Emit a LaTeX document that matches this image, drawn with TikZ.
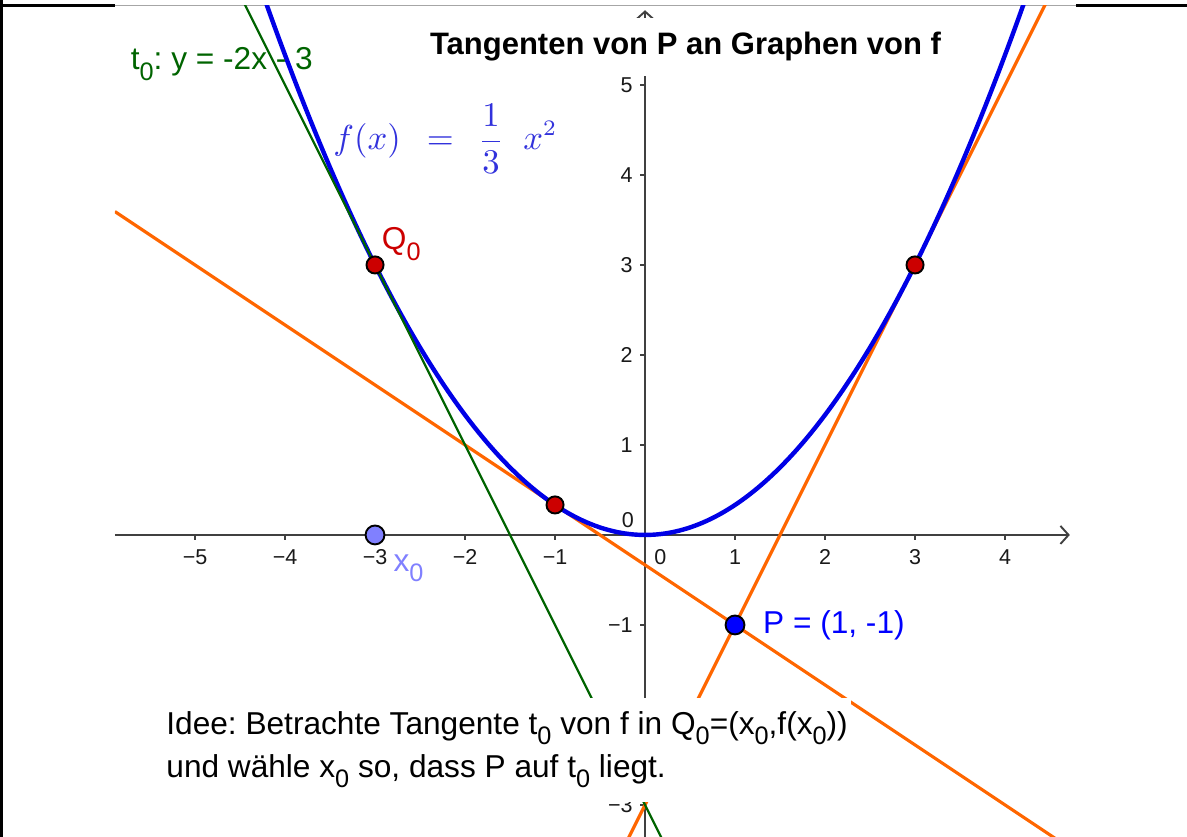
\documentclass[tikz,border=0pt]{standalone}
\usepackage[no-math]{fontspec}
\setmainfont{Liberation Sans}
\usepackage{amsmath}
\usetikzlibrary{positioning, arrows.meta}
\frenchspacing

\definecolor{fblue}{RGB}{0,0,230}
\definecolor{flabel}{RGB}{50,50,220}
\definecolor{torange}{RGB}{255,102,0}
\definecolor{tgreen}{RGB}{0,100,0}
\definecolor{qred}{RGB}{204,0,0}
\definecolor{pblue}{RGB}{0,0,255}
\definecolor{xblue}{RGB}{128,128,255}
\definecolor{axisgray}{RGB}{64,64,64}

\newcommand{\lowsub}[1]{\raisebox{-0.32em}{\fontsize{8}{8}\selectfont #1}}

\begin{document}
\begin{tikzpicture}[
  >={Straight Barb[length=0.9mm, width=2mm]},
  every node/.style={font=\fontsize{10}{13.6}\selectfont},
  axisline/.style={draw=axisgray, line width=0.6pt},
  ticklabel/.style={font=\fontsize{6.8}{7}\selectfont, text=black!90, inner sep=0pt},
  fcurve/.style={draw=fblue, line width=1.4pt},
  tanline/.style={draw=torange, line width=1pt},
  tzline/.style={draw=tgreen, line width=0.7pt},
  gpoint/.style={circle, draw=black, line width=0.6pt, inner sep=0pt, minimum size=0.19cm},
  cover/.style={fill=white, inner xsep=1pt, inner ysep=4.5pt}
]
\useasboundingbox (-7.167,-3.356) rectangle (6.022,5.944);

% Frame of the screenshot
\draw[line width=1.1pt] (-7.15,5.944) -- (-7.15,-3.356);
\draw[line width=1pt] (-7.167,5.884) -- (-5.89,5.884);
\draw[line width=1pt] (4.79,5.884) -- (6.022,5.884);
\draw[gray!70, line width=0.5pt] (-5.89,5.884) -- (4.79,5.884);

% Axes with ticks
\draw[axisline, ->] (-5.89,0) -- (4.72,0);
\draw[axisline, ->] (0,-3.356) -- (0,5.83);
\foreach \k in {-5,...,4}
  \draw[axisline] (\k,0) -- (\k,-0.06);
\foreach \k in {-3,-1,1,2,3,4,5}
  \draw[axisline] (0,\k) -- (-0.06,\k);
\foreach \k/\t in {-5/−5,-4/−4,-3/−3,-2/−2,-1/−1,1/1,2/2,3/3,4/4}
  \node[ticklabel] at (\k,-0.244) {\t};
\node[ticklabel] (xzero) at (0.17,-0.244) {0};
\foreach \k/\t in {-3/−3,-1/−1,1/1,2/2,3/3,4/4,5/5}
  \node[ticklabel, anchor=east] at (-0.13,\k) {\t};
\node[ticklabel] (yzero) at (-0.19,0.17) {0};

% Tangents and graph of f, clipped to the drawing pad
\begin{scope}
  \clip (-5.89,-3.356) rectangle (4.79,5.884);
  \draw[tanline] plot[domain=-5.89:4.7] (\x,{-2/3*\x-1/3});
  \draw[tanline] plot[domain=-0.3:4.5] (\x,{2*\x-3});
  \draw[fcurve] plot[domain=-4.25:4.25, samples=100, smooth] (\x,{\x*\x/3});
  \draw[tzline] plot[domain=-4.5:0.3] (\x,{-2*\x-3});
\end{scope}

% Points
\node[gpoint, fill=qred] (q0) at (-3,3) {};
\node[gpoint, fill=qred] (q1) at (-1,{1/3}) {};
\node[gpoint, fill=qred] (q2) at (3,3) {};
\node[gpoint, fill=pblue, minimum size=0.21cm] (p) at (1,-1) {};
\node[gpoint, fill=xblue, minimum size=0.21cm] (x0) at (-3,0) {};

% Labels
\node[anchor=base west, text=qred, inner sep=0pt] (q0lab) at (-2.93,3.167) {Q\lowsub{0}};
\node[right=0.19cm of p, text=pblue, inner sep=0pt] (plab) {P = (1, -1)};
\node[anchor=base west, text=xblue, inner sep=0pt] (x0lab) at (-2.8,-0.41) {x\lowsub{0}};
\node[anchor=base west, text=tgreen, inner sep=0pt] (tlab) at (-5.72,5.167) {t\lowsub{0}: y = -2x - 3};
\node[anchor=base west, text=flabel, inner sep=0pt, font=\fontsize{10.5}{12}\selectfont] (flab) at (-3.47,4.278)
  {$\displaystyle f(x)\hspace{0.5em}=\hspace{0.45em}\frac{1}{3}\hspace{0.6em}x^{2}$};

% Title and note on white boxes
\node[cover, anchor=base, font=\bfseries\fontsize{9.8}{12}\selectfont] (title) at (0.45,5.333)
  {Tangenten von P an Graphen von f};
\node[cover, align=left, anchor=north west] (idea) at (-5.36,-1.8)
  {Idee: Betrachte Tangente t\lowsub{0} von f in Q\lowsub{0}=(x\lowsub{0},f(x\lowsub{0}))\\
   und wähle x\lowsub{0} so, dass P auf t\lowsub{0} liegt.};
\end{tikzpicture}
\end{document}
